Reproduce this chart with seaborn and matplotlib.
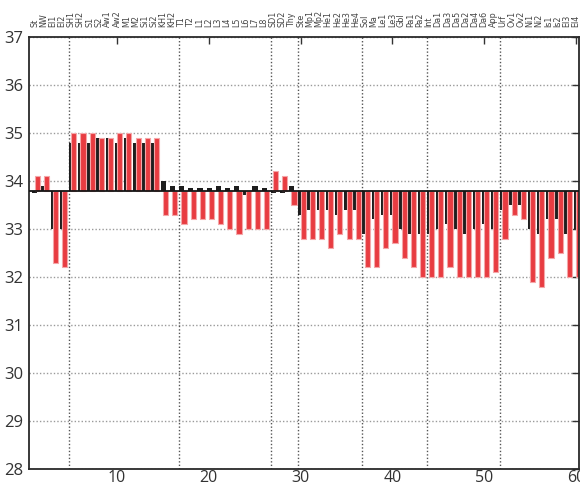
import numpy as np
import pandas as pd
import matplotlib
matplotlib.use("Agg")
import matplotlib.pyplot as plt
import seaborn as sns

# Station codes along the transect
stations = ["St", "NW", "El1", "El2", "SH1", "SH2", "S1", "S2", "Aw1", "Aw2",
            "M1", "M2", "Si1", "Si2", "KH1", "KH2", "T1", "T2", "L1", "L2",
            "L3", "L4", "L5", "L6", "L7", "L8", "SD1", "SD2", "Thy", "Ste",
            "Mp1", "Mp2", "He1", "He2", "He3", "He4", "Sol", "Ma", "Le1", "Le3",
            "Gbl", "Pa1", "Pa2", "Int", "Da1", "Da3", "Da5", "Da2", "Da4", "Da6",
            "App", "Urf", "Ov1", "Ov2", "Ni1", "Ni2", "Is1", "Is2", "El3", "El4"]

# First series (dark bars)
dark_values = [33.75, 33.9, 33.0, 33.0, 34.8, 34.8, 34.8, 34.9, 34.9, 34.8,
               34.9, 34.8, 34.8, 34.8, 34.0, 33.9, 33.9, 33.85, 33.85, 33.85,
               33.9, 33.85, 33.9, 33.7, 33.9, 33.85, 33.75, 33.75, 33.9, 33.3,
               33.4, 33.4, 33.4, 33.3, 33.4, 33.4, 32.9, 33.2, 33.3, 33.3,
               33.0, 32.9, 32.9, 32.9, 33.0, 33.1, 33.0, 32.9, 33.0, 33.1,
               33.0, 33.4, 33.5, 33.5, 33.0, 32.9, 33.2, 33.2, 32.9, 33.0]

# Second series (red bars)
red_values = [34.1, 34.1, 32.3, 32.2, 35.0, 35.0, 35.0, 34.9, 34.9, 35.0,
              35.0, 34.9, 34.9, 34.9, 33.3, 33.3, 33.1, 33.2, 33.2, 33.2,
              33.1, 33.0, 32.9, 33.0, 33.0, 33.0, 34.2, 34.1, 33.5, 32.8,
              32.8, 32.8, 32.6, 32.9, 32.8, 32.8, 32.2, 32.2, 32.6, 32.7,
              32.4, 32.2, 32.0, 32.0, 32.0, 32.2, 32.0, 32.0, 32.0, 32.0,
              32.1, 32.8, 33.3, 33.2, 31.9, 31.8, 32.4, 32.5, 32.0, 32.0]

# Reference level the bars hang from
baseline = 33.8

# Stations that open a new section of the transect
section_starts = ["SH1", "T1", "SD1", "Ste", "Sol", "Int", "Urf"]

x_ticks = [10, 20, 30, 40, 50, 60]
y_ticks = list(range(28, 38))

sns.set_style("white")
plt.rcParams["font.family"] = ["Open Sans", "DejaVu Sans"]

pos = np.arange(1, len(stations) + 1)
df = pd.DataFrame({"pos": pos,
                   "dark": np.array(dark_values) - baseline,
                   "red": np.array(red_values) - baseline})

fig = plt.figure(figsize=(5.8, 4.86), dpi=100)
ax = fig.add_axes([0.05, 0.035, 0.9483, 0.889])

sns.barplot(x=df["pos"] + 0.035, y=df["dark"], orient="x", native_scale=True,
            width=0.57, color="#1e1e1e", saturation=1, errorbar=None,
            bottom=baseline, linewidth=0, zorder=2, ax=ax)
sns.barplot(x=df["pos"] + 0.29, y=df["red"], orient="x", native_scale=True,
            width=0.56, color="#e83c41", saturation=1, errorbar=None,
            bottom=baseline, edgecolor="#f4a6a8", linewidth=0.8, zorder=2.5, ax=ax)

ax.axhline(baseline, color="#151515", lw=1.3, zorder=3)
for name in section_starts:
    ax.axvline(stations.index(name) + 1 - 0.25, color="#555555",
               ls=(0, (1, 1.5)), lw=1, zorder=1)

ax.set_xlim(0.4, 60.35)
ax.set_ylim(28, 37)
ax.set_xticks(x_ticks)
ax.set_yticks(y_ticks)
ax.set_xlabel("")
ax.set_ylabel("")
ax.yaxis.grid(True, color="#9a9a9a", ls=(0, (1, 1.5)), lw=1)
ax.xaxis.grid(False)
ax.set_axisbelow(True)
ax.tick_params(direction="in", top=True, right=True, length=5, width=1,
               labelsize=12, labelcolor="#333333", color="#333333")
ax.tick_params(axis="x", pad=1, labelsize=11.5)
ax.tick_params(axis="y", pad=4)
for sp in ax.spines.values():
    sp.set_color("#2a2a2a")
    sp.set_linewidth(1.3)

sec = ax.secondary_xaxis("top")
sec.set_xticks(pos)
sec.set_xticklabels(stations, rotation=90, fontsize=5.8, color="#444444",
                    family="DejaVu Sans")
sec.tick_params(length=0, pad=7)
sec.spines["top"].set_visible(False)

fig.savefig("out.png", dpi=100)
